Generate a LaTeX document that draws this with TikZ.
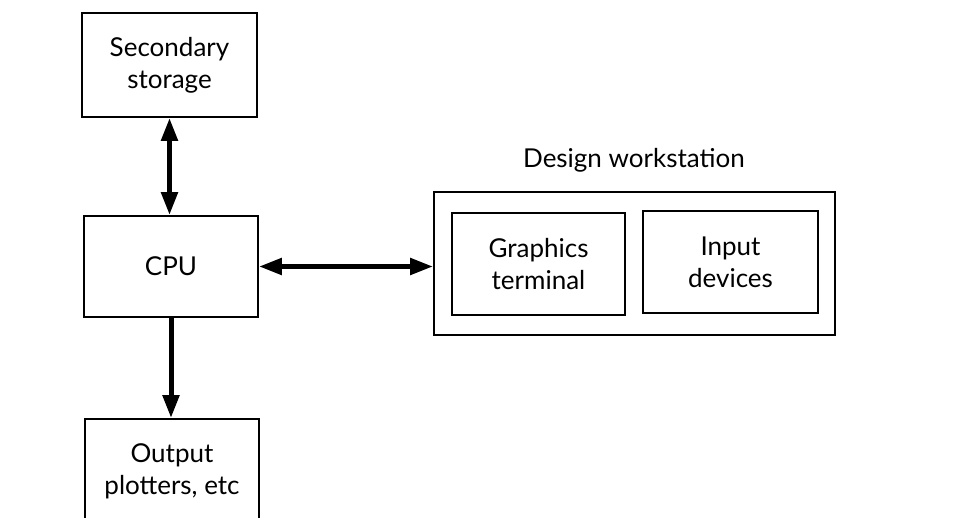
\documentclass[tikz,border=0pt]{standalone}
\usepackage{fontspec}
\setmainfont{Lato}
\usetikzlibrary{arrows.meta}
\tikzset{
  box/.style={draw, line width=1.8pt, align=center, inner sep=0pt, font=\fontsize{26}{32}\selectfont},
  conn/.style={line width=5pt, {Triangle[length=23pt,width=16pt]}-{Triangle[length=23pt,width=16pt]}},
  conn1/.style={line width=5pt, -{Triangle[length=23pt,width=16pt]}}
}
\begin{document}
\begin{tikzpicture}[x=1pt,y=-1pt]
\useasboundingbox (0,0) rectangle (960,518);
\node[box, minimum width=175pt, minimum height=104pt] (sec) at (169.5,65) {Secondary\\storage};
\node[box, minimum width=174pt, minimum height=101pt] (cpu) at (171,266.5) {CPU};
\node[box, minimum width=174pt, minimum height=104pt] (out) at (172,471) {Output\\plotters, etc};
\node[box, minimum width=401pt, minimum height=143pt] (ws) at (634.5,263.5) {};
\node[box, minimum width=173pt, minimum height=102pt] (gt) at (538.5,264) {Graphics\\terminal};
\node[box, minimum width=175pt, minimum height=102pt] (id) at (730.5,262) {Input\\devices};
\node[font=\fontsize{26}{32}\selectfont] (title) at (634,160) {Design workstation};
\draw[conn] (sec.south) -- (sec.south |- cpu.north);
\draw[conn1] (cpu.south) -- (cpu.south |- out.north);
\draw[conn] (cpu.east) -- (cpu.east -| ws.west);
\end{tikzpicture}
\end{document}
